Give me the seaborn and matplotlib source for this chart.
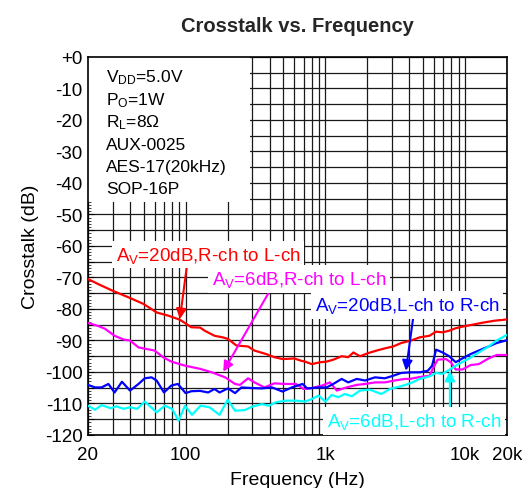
import pandas as pd
import matplotlib
matplotlib.use("Agg")
import matplotlib.pyplot as plt
import matplotlib.ticker as mticker
from matplotlib.patches import Rectangle
import seaborn as sns

# series (frequency in Hz, crosstalk in dB)
red_freq = [20, 23.7, 30, 39, 50, 62, 75, 91, 110, 127, 137, 161, 184, 201, 231, 280, 311, 377,
            432, 496, 600, 668, 716, 800, 920, 1022, 1140, 1310, 1460, 1590, 1770, 2030, 2330,
            2670, 3060, 3500, 4120, 4740, 5570, 6210, 6920, 7710, 8590, 9850, 11890, 13970,
            16430, 20000]
red_db = [-70.5, -72.1, -74.2, -76.3, -78.4, -81.1, -82.1, -83.4, -85.8, -85.9, -86.9, -88.5,
          -89.0, -89.5, -91.6, -91.9, -93.2, -94.3, -95.3, -95.9, -95.7, -96.4, -96.7, -97.5,
          -96.9, -96.7, -96.1, -95.0, -95.3, -93.8, -95.0, -94.0, -93.2, -92.5, -91.9, -90.8,
          -90.0, -89.0, -88.5, -87.2, -87.4, -86.9, -86.1, -85.5, -84.8, -84.2, -83.7, -83.3]

mag_freq = [20, 24, 26.5, 31, 36, 40, 46, 60, 69, 79, 99, 127, 154, 192, 226, 245, 280, 311,
            367, 432, 510, 617, 700, 800, 950, 1080, 1210, 1420, 1680, 1930, 2270, 2670, 3140,
            3700, 4040, 4740, 5570, 6040, 6380, 7300, 7910, 8590, 9590, 10980, 12560, 14770,
            16880, 20000]
mag_db = [-84.4, -85.5, -86.3, -88.5, -89.7, -90.0, -92.2, -93.2, -95.3, -96.7, -98.0, -99.0,
          -100.1, -101.7, -103.8, -104.1, -102.0, -103.3, -104.9, -103.6, -103.8, -103.8,
          -105.4, -105.1, -104.3, -103.3, -105.9, -104.9, -104.1, -103.8, -103.3, -103.3,
          -102.7, -102.2, -102.2, -101.6, -101.2, -98.0, -96.1, -95.9, -96.9, -99.2, -99.2,
          -97.8, -97.5, -95.7, -94.6, -94.6]

blue_freq = [20, 22.5, 25, 28, 31, 35, 40, 46, 51, 57, 62, 70, 79, 88, 100, 110, 127, 145,
             161, 175, 201, 226, 251, 297, 352, 415, 494, 577, 687, 742, 800, 895, 1022, 1140,
             1310, 1460, 1680, 1930, 2270, 2670, 3060, 3500, 4120, 4740, 5420, 5820, 6210,
             6920, 7710, 8590, 9590, 10980, 12560, 14770, 16880, 20000]
blue_db = [-104.1, -104.9, -104.9, -103.8, -106.5, -103.1, -105.9, -103.8, -102.0, -101.7,
           -102.7, -106.5, -104.3, -103.8, -106.7, -106.1, -106.0, -106.5, -105.4, -106.5,
           -105.2, -106.7, -104.9, -105.1, -105.2, -104.9, -106.2, -104.9, -103.8, -105.2,
           -105.1, -104.9, -104.9, -103.8, -102.2, -103.3, -102.2, -102.7, -101.7, -102.0,
           -101.2, -100.3, -100.1, -100.1, -99.6, -98.0, -92.9, -93.8, -95.0, -96.9, -95.7,
           -94.3, -93.2, -91.9, -90.8, -89.9]

cyan_freq = [20, 22.5, 25, 29, 32, 36, 40, 45, 51, 62, 71, 80, 89, 99, 111, 128, 148, 175,
             200, 226, 265, 304, 352, 394, 444, 524, 617, 716, 800, 895, 1000, 1110, 1240,
             1380, 1550, 1770, 2080, 2520, 2900, 3500, 4120, 4740, 5570, 6210, 6920, 7910,
             9000, 10700, 12560, 14770, 16880, 20000]
cyan_db = [-110.7, -112.0, -110.5, -111.5, -110.9, -111.7, -111.2, -111.7, -109.4, -112.8,
           -110.7, -111.7, -115.4, -110.7, -113.6, -110.7, -111.2, -113.6, -108.8, -112.3,
           -112.1, -110.9, -110.2, -110.7, -109.6, -109.1, -109.1, -109.4, -108.6, -107.5,
           -109.4, -107.3, -108.0, -107.0, -107.7, -105.9, -105.6, -107.0, -105.4, -104.5,
           -103.5, -102.2, -101.4, -100.3, -100.6, -99.0, -97.5, -95.7, -93.8, -91.9, -90.0,
           -88.2]

series_names = ["20dB R to L", "6dB R to L", "20dB L to R", "6dB L to R"]
series_colors = ["#ff0000", "#ff00ff", "#0000ff", "#00ffff"]
series_labels = [r"A$_\mathrm{V}$=20dB,R-ch to L-ch", r"A$_\mathrm{V}$=6dB,R-ch to L-ch",
                 r"A$_\mathrm{V}$=20dB,L-ch to R-ch", r"A$_\mathrm{V}$=6dB,L-ch to R-ch"]
conditions = [r"V$_\mathrm{DD}$=5.0V", r"P$_\mathrm{O}$=1W", r"R$_\mathrm{L}$=8Ω",
              "AUX-0025", "AES-17(20kHz)", "SOP-16P"]

x_ticks = [20, 100, 1000, 10000, 20000]
x_ticklabels = ["20", "100", "1k", "10k", "20k"]

# label anchors and arrows (freq, dB)
label_pos = [(31.6, -64.3), (153.7, -72.1), (843, -80.3), (1022, -117.2)]
arrow_tail = [(102, -66.5), (395, -74.7), (4265, -82.6), (7800, -111.2)]
arrow_head = [(91, -83.2), (186, -99.9), (3778, -99.6), (7800, -99.6)]

sns.set_theme(style="white")
plt.rcParams["font.family"] = ["Liberation Sans", "DejaVu Sans"]
plt.rcParams["mathtext.fontset"] = "custom"
plt.rcParams["mathtext.rm"] = "Liberation Sans"
plt.rcParams["mathtext.it"] = "Liberation Sans:italic"

frames = []
for name, f, d in zip(series_names, [red_freq, mag_freq, blue_freq, cyan_freq],
                      [red_db, mag_db, blue_db, cyan_db]):
    frames.append(pd.DataFrame({"freq": f, "db": d, "series": name}))
df = pd.concat(frames, ignore_index=True)

fig = plt.figure(figsize=(5.31, 4.89), dpi=100)
ax = fig.add_axes([0.1657, 0.1084, 0.7891, 0.773])
ax.set_xscale("log")

sns.lineplot(data=df, x="freq", y="db", hue="series", hue_order=series_names,
             palette=dict(zip(series_names, series_colors)), estimator=None, sort=False,
             linewidth=1.6, legend=False, ax=ax, zorder=3)

ax.set_xlim(20, 20000)
ax.set_ylim(-120, 0)

ax.xaxis.set_major_locator(mticker.FixedLocator(x_ticks))
ax.xaxis.set_major_formatter(mticker.FixedFormatter(x_ticklabels))
ax.xaxis.set_minor_locator(mticker.LogLocator(base=10, subs=range(1, 10), numticks=20))
ax.xaxis.set_minor_formatter(mticker.NullFormatter())
ax.yaxis.set_major_locator(mticker.MultipleLocator(5))
ax.yaxis.set_minor_locator(mticker.MultipleLocator(1))


def ylab(v, pos):
    v = int(round(v))
    if v % 10:
        return ""
    return "+0" if v == 0 else str(v)


ax.yaxis.set_major_formatter(mticker.FuncFormatter(ylab))

ax.set_axisbelow(True)
ax.grid(True, which="both", axis="x", color="#1a1a1a", linewidth=0.9)
ax.grid(True, which="major", axis="y", color="#1a1a1a", linewidth=0.9)
ax.tick_params(axis="x", which="both", length=0, pad=8, labelsize=13.5, colors="black")
ax.tick_params(axis="y", which="major", direction="in", length=4, width=0.8, pad=4,
               labelsize=13.5, colors="black", left=True)
ax.tick_params(axis="y", which="minor", direction="in", length=2, width=0.6, left=True)
for sp in ax.spines.values():
    sp.set_color("black")
    sp.set_linewidth(1.2)

ax.set_xlabel("Frequency (Hz)", fontsize=14, color="black", labelpad=6)
ax.set_ylabel("Crosstalk (dB)", fontsize=14, color="black", labelpad=4)
ax.set_title("Crosstalk vs. Frequency", fontsize=14.5, fontweight="bold", pad=19)

# conditions box in the upper-left corner
ax.add_patch(Rectangle((0, 0.616), 0.387, 0.384, transform=ax.transAxes,
                       facecolor="white", edgecolor="none", zorder=1))
for i, line in enumerate(conditions):
    ax.text(0.043, 0.9347 - i * 0.059, line, transform=ax.transAxes, fontsize=12.5,
            ha="left", va="baseline", color="black", zorder=4)

for lab, col, pos, tail, head in zip(series_labels, series_colors, label_pos,
                                     arrow_tail, arrow_head):
    ax.annotate("", xy=head, xytext=tail,
                arrowprops=dict(arrowstyle="-|>", color=col, lw=1.5, mutation_scale=15,
                                shrinkA=0, shrinkB=0), zorder=4)
    ax.text(pos[0], pos[1], lab, color=col, fontsize=13.5, ha="left", va="baseline",
            zorder=5, bbox=dict(boxstyle="square,pad=0.2", facecolor="white", edgecolor="none"))

fig.savefig("out.png", dpi=100)
